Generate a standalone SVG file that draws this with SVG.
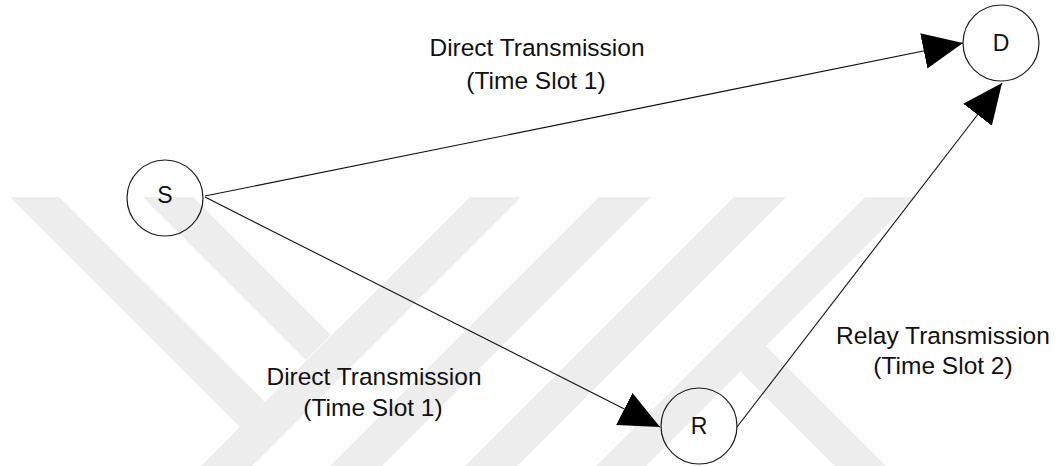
<svg xmlns="http://www.w3.org/2000/svg" width="1057" height="466" viewBox="0 0 1057 466">
  <style>
    .wm { fill: #ededed; stroke: none; }
    .node { fill: none; stroke: #1a1a1a; stroke-width: 1.2; }
    .nlabel { font-family: "Liberation Sans", Arial, sans-serif; font-size: 23px; fill: #111; text-anchor: middle; }
    .elabel { font-family: "Liberation Sans", Arial, sans-serif; font-size: 24.5px; fill: #111; text-anchor: middle; }
    .edge { fill: none; stroke: #111; stroke-width: 1.1; marker-end: url(#arrow); }
  </style>
  <defs>
    <marker id="arrow" markerUnits="userSpaceOnUse" markerWidth="42" markerHeight="38" refX="40" refY="18" orient="auto" viewBox="0 0 42 38">
      <path d="M0,0 L40,18 L0,36 Z" fill="#000"/>
    </marker>
  </defs>
  <rect x="0" y="0" width="1057" height="466" fill="#ffffff"/>
  <g id="watermark">
    <polygon class="wm" points="10,197 59,197 265,402 240,427"/>
    <polygon class="wm" points="143,197 193,197 331,335 306,360"/>
    <polygon class="wm" points="470,197 521,197 252,466 201,466"/>
    <polygon class="wm" points="599,197 651,197 382,466 330,466"/>
    <polygon class="wm" points="734,197 786,197 517,466 465,466"/>
    <polygon class="wm" points="865,197 915,197 646,466 596,466"/>
    <polygon class="wm" points="740,371 766,346 886,466 835,466"/>
  </g>
  <g id="connectors">
    <line class="edge" x1="205" y1="196" x2="963" y2="43"/>
    <line class="edge" x1="205" y1="197" x2="660" y2="427"/>
    <line class="edge" x1="737" y1="427" x2="1002" y2="83"/>
  </g>
  <g id="labels">
    <text class="elabel" x="537" y="56">Direct Transmission</text>
    <text class="elabel" x="536" y="89">(Time Slot 1)</text>
    <text class="elabel" x="374" y="385">Direct Transmission</text>
    <text class="elabel" x="373" y="416">(Time Slot 1)</text>
    <text class="elabel" x="943" y="344">Relay Transmission</text>
    <text class="elabel" x="943" y="374">(Time Slot 2)</text>
  </g>
  <g id="node-S">
    <circle class="node" cx="165" cy="198" r="38"/>
    <text class="nlabel" x="165" y="203">S</text>
  </g>
  <g id="node-D">
    <circle class="node" cx="1001" cy="43" r="38"/>
    <text class="nlabel" x="1001" y="51">D</text>
  </g>
  <g id="node-R">
    <circle class="node" cx="699" cy="426" r="38"/>
    <text class="nlabel" x="699" y="434">R</text>
  </g>
</svg>
